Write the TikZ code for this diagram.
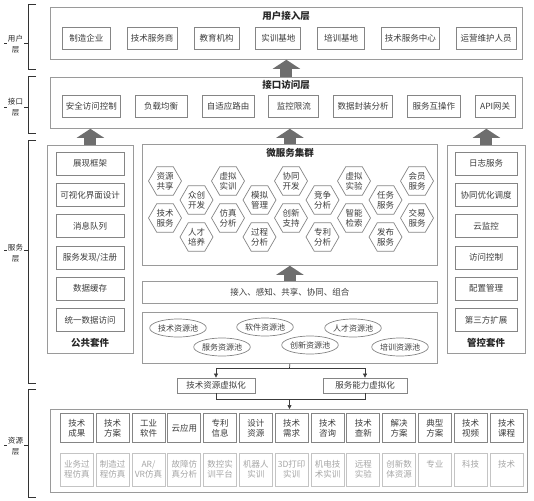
\documentclass[tikz,border=0pt]{standalone}
\usepackage{fontspec}
\setmainfont{Noto Sans CJK SC}
\usetikzlibrary{shapes.geometric,arrows.meta,positioning}
\definecolor{framegray}{HTML}{9A9A9A}
\definecolor{boxgray}{HTML}{858585}
\definecolor{inkgray}{HTML}{3C3C3C}
\definecolor{fadegray}{HTML}{C4C4C4}
\definecolor{fadeink}{HTML}{A5A5A5}
\definecolor{arrowgray}{HTML}{6E6E6E}
\tikzstyle{every node}=[font=\fontsize{8.5}{10}\selectfont,text=inkgray,inner sep=1pt]
\tikzstyle{frame}=[draw=framegray,line width=0.8pt,anchor=north west]
\tikzstyle{heading}=[font=\fontsize{9.5}{11}\selectfont\bfseries,text=black!85]
\tikzstyle{itembox}=[draw=boxgray,line width=0.8pt,minimum height=22pt]
\tikzstyle{suitebox}=[draw=boxgray,line width=0.8pt,minimum height=23pt]
\tikzstyle{hexa}=[draw=boxgray,line width=0.7pt,regular polygon,regular polygon sides=6,minimum size=33pt,inner sep=0pt,align=center]
\tikzstyle{pool}=[draw=boxgray,line width=0.7pt,ellipse,minimum width=56pt,minimum height=18pt,inner sep=0pt,font=\fontsize{8}{9.5}\selectfont]
\tikzstyle{virtbox}=[draw=boxgray,line width=0.8pt,minimum height=15pt]
\tikzstyle{resbox}=[draw=boxgray,line width=0.8pt,minimum width=33pt,minimum height=29pt,align=center]
\tikzstyle{resfaded}=[draw=fadegray,line width=0.8pt,text=fadeink,minimum width=33pt,minimum height=33pt,align=center]
\tikzstyle{fatarrow}=[draw=arrowgray,line width=12pt,-{Triangle[length=9pt,width=27pt]}]
\tikzstyle{link}=[draw=inkgray,line width=0.7pt]
\tikzstyle{linkto}=[link,-{Triangle[length=4pt,width=4pt]}]
\tikzstyle{brace}=[draw=black!80,line width=0.9pt]
\tikzstyle{sidelabel}=[align=center,font=\fontsize{7.5}{11}\selectfont,text=black!85]

\begin{document}
\begin{tikzpicture}[x=1pt,y=-1pt]
\useasboundingbox (0,0) rectangle (534,500);

\draw[brace] (36,4) -- (28,4) -- (28,69) -- (36,69);
\draw[brace] (28,43) -- (24,43);
\draw[brace] (4,43) -- (7,43);
\node[sidelabel] (userlbl) at (15.5,44) {用户\\层};
\draw[brace] (36,76) -- (28,76) -- (28,133) -- (36,133);
\draw[brace] (28,107) -- (24,107);
\draw[brace] (4,107) -- (7,107);
\node[sidelabel] (intflbl) at (15.5,107) {接口\\层};
\draw[brace] (36,140) -- (28,140) -- (28,383) -- (36,383);
\draw[brace] (28,250) -- (24,250);
\draw[brace] (4,250) -- (7,250);
\node[sidelabel] (servlbl) at (15.5,253) {服务\\层};
\draw[brace] (36,389) -- (28,389) -- (28,497) -- (36,497);
\draw[brace] (28,445) -- (24,445);
\draw[brace] (4,445) -- (7,445);
\node[sidelabel] (reslbl) at (15.5,446) {资源\\层};

\node[frame,minimum width=472pt,minimum height=52pt] (user) at (50,7) {};
\node[heading] (usertitle) at (286,16) {用户接入层};
\node[itembox,minimum width=48pt,anchor=west] (u1) at (62,38) {制造企业};
\node[itembox,minimum width=50pt,right=16pt of u1] (u2) {技术服务商};
\node[itembox,minimum width=45pt,right=16pt of u2] (u3) {教育机构};
\node[itembox,minimum width=45pt,right=16pt of u3] (u4) {实训基地};
\node[itembox,minimum width=47pt,right=16pt of u4] (u5) {培训基地};
\node[itembox,minimum width=58pt,right=16pt of u5] (u6) {技术服务中心};
\node[itembox,minimum width=60pt,right=16pt of u6] (u7) {运营维护人员};

\node[frame,minimum width=472pt,minimum height=51pt] (intf) at (50,77) {};
\node[heading] (intftitle) at (286,85) {接口访问层};
\node[itembox,minimum width=58pt,anchor=west] (i1) at (62,106) {安全访问控制};
\node[itembox,minimum width=52pt,right=14pt of i1] (i2) {负载均衡};
\node[itembox,minimum width=52pt,right=14pt of i2] (i3) {自适应路由};
\node[itembox,minimum width=50pt,right=14pt of i3] (i4) {监控限流};
\node[itembox,minimum width=59pt,right=14pt of i4] (i5) {数据封装分析};
\node[itembox,minimum width=53pt,right=14pt of i5] (i6) {服务互操作};
\node[itembox,minimum width=40pt,right=14pt of i6] (i7) {API网关};

\node[frame,minimum width=86pt,minimum height=208pt] (pub) at (47,145) {};
\node[suitebox,minimum width=68pt] (p1) at (90,163.5) {展现框架};
\node[suitebox,minimum width=68pt,below=7.5pt of p1] (p2) {可视化界面设计};
\node[suitebox,minimum width=68pt,below=7.5pt of p2] (p3) {消息队列};
\node[suitebox,minimum width=68pt,below=7.5pt of p3] (p4) {服务发现/注册};
\node[suitebox,minimum width=68pt,below=7.5pt of p4] (p5) {数据缓存};
\node[suitebox,minimum width=68pt,below=7.5pt of p5] (p6) {统一数据访问};
\node[heading] (pubtitle) at (90,343) {公共套件};

\node[frame,minimum width=78pt,minimum height=208pt] (ctl) at (447,145) {};
\node[suitebox,minimum width=62pt] (c1) at (486,163.5) {日志服务};
\node[suitebox,minimum width=62pt,below=7.5pt of c1] (c2) {协同优化调度};
\node[suitebox,minimum width=62pt,below=7.5pt of c2] (c3) {云监控};
\node[suitebox,minimum width=62pt,below=7.5pt of c3] (c4) {访问控制};
\node[suitebox,minimum width=62pt,below=7.5pt of c4] (c5) {配置管理};
\node[suitebox,minimum width=62pt,below=7.5pt of c5] (c6) {第三方扩展};
\node[heading] (ctltitle) at (486,343) {管控套件};

\node[frame,minimum width=295pt,minimum height=121pt] (micro) at (142,144) {};
\node[heading] (microtitle) at (290,153) {微服务集群};
\node[hexa] (ms1) at (165,181) {资源\\共享};
\node[hexa] (ms2) at (165,218) {技术\\服务};
\node[hexa] (ms3) at (196.5,200) {众创\\开发};
\node[hexa] (ms4) at (196.5,237) {人才\\培养};
\node[hexa] (ms5) at (228,181) {虚拟\\实训};
\node[hexa] (ms6) at (228,218) {仿真\\分析};
\node[hexa] (ms7) at (259.5,200) {模拟\\管理};
\node[hexa] (ms8) at (259.5,237) {过程\\分析};
\node[hexa] (ms9) at (291,181) {协同\\开发};
\node[hexa] (ms10) at (291,218) {创新\\支持};
\node[hexa] (ms11) at (322.5,200) {竞争\\分析};
\node[hexa] (ms12) at (322.5,237) {专利\\分析};
\node[hexa] (ms13) at (354,181) {虚拟\\实验};
\node[hexa] (ms14) at (354,218) {智能\\检索};
\node[hexa] (ms15) at (385.5,200) {任务\\服务};
\node[hexa] (ms16) at (385.5,237) {发布\\服务};
\node[hexa] (ms17) at (417,181) {会员\\服务};
\node[hexa] (ms18) at (417,218) {交易\\服务};

\node[frame,minimum width=295pt,minimum height=22pt] (access) at (142,281) {接入、感知、共享、协同、组合};

\node[frame,minimum width=295pt,minimum height=51pt] (pool) at (142,312) {};
\node[pool] (pooltech) at (178,328) {技术资源池};
\node[pool] (poolsoft) at (265,327) {软件资源池};
\node[pool] (pooltalent) at (353,328) {人才资源池};
\node[pool] (poolserv) at (222,347) {服务资源池};
\node[pool] (poolinno) at (310,345) {创新资源池};
\node[pool] (pooltrain) at (400,347) {培训资源池};

\node[virtbox,minimum width=78pt] (techvirt) at (216,385.5) {技术资源虚拟化};
\node[virtbox,minimum width=84pt] (servvirt) at (365,385.5) {服务能力虚拟化};
\coordinate (split) at (289.5,368);
\coordinate (merge) at (289.5,399);

\node[frame,minimum width=477pt,minimum height=83pt] (res) at (50,409) {};
\node[resbox,anchor=north west] (r1) at (60,413) {技术\\成果};
\node[resbox,right=2pt of r1] (r2) {技术\\方案};
\node[resbox,right=2pt of r2] (r3) {工业\\软件};
\node[resbox,right=2pt of r3] (r4) {云应用};
\node[resbox,right=2pt of r4] (r5) {专利\\信息};
\node[resbox,right=2pt of r5] (r6) {设计\\资源};
\node[resbox,right=2pt of r6] (r7) {技术\\需求};
\node[resbox,right=2pt of r7] (r8) {技术\\咨询};
\node[resbox,right=2pt of r8] (r9) {技术\\查新};
\node[resbox,right=2pt of r9] (r10) {解决\\方案};
\node[resbox,right=2pt of r10] (r11) {典型\\方案};
\node[resbox,right=2pt of r11] (r12) {技术\\视频};
\node[resbox,right=2pt of r12] (r13) {技术\\课程};
\node[resfaded,below=10pt of r1] (f1) {业务过\\程仿真};
\node[resfaded,below=10pt of r2] (f2) {制造过\\程仿真};
\node[resfaded,below=10pt of r3] (f3) {AR/\\VR仿真};
\node[resfaded,below=10pt of r4] (f4) {故障仿\\真分析};
\node[resfaded,below=10pt of r5] (f5) {数控实\\训平台};
\node[resfaded,below=10pt of r6] (f6) {机器人\\实训};
\node[resfaded,below=10pt of r7] (f7) {3D打印\\实训};
\node[resfaded,below=10pt of r8] (f8) {机电技\\术实训};
\node[resfaded,below=10pt of r9] (f9) {远程\\实验};
\node[resfaded,below=10pt of r10] (f10) {创新数\\体资源};
\node[resfaded,below=10pt of r11] (f11) {专业\\\phantom{专业}};
\node[resfaded,below=10pt of r12] (f12) {科技\\\phantom{科技}};
\node[resfaded,below=10pt of r13] (f13) {技术\\\phantom{技术}};

\draw[fatarrow] (intf.north) -- (user.south);
\draw[fatarrow] (pub.north) -- (pub.north |- intf.south);
\draw[fatarrow] (micro.north) -- (micro.north |- intf.south);
\draw[fatarrow] (ctl.north) -- (ctl.north |- intf.south);
\draw[fatarrow] (access.north) -- (micro.south);

\draw[link] (pool.south) -- (split);
\draw[linkto] (split) -| (techvirt.north);
\draw[linkto] (split) -| (servvirt.north);
\draw[link] (techvirt.south) |- (merge);
\draw[link] (servvirt.south) |- (merge);
\draw[linkto] (merge) -- (merge |- res.north);
\end{tikzpicture}
\end{document}
